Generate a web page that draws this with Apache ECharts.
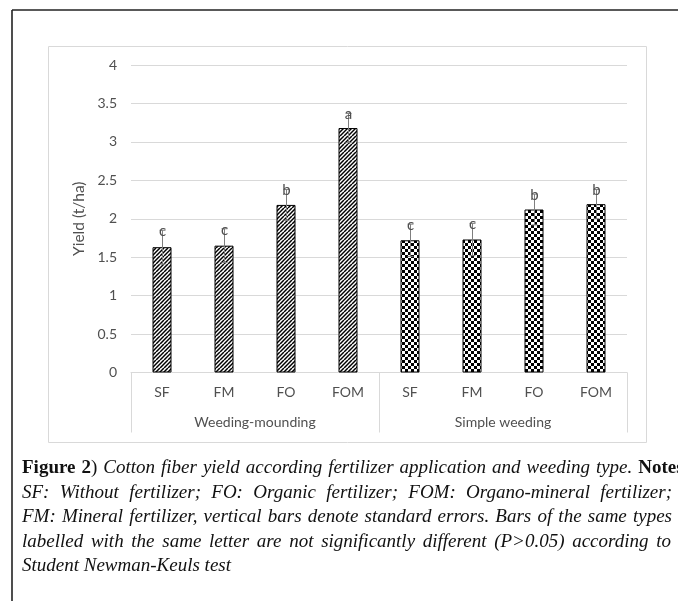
<!DOCTYPE html>
<html><head><meta charset="utf-8">
<script src="https://cdn.jsdelivr.net/npm/echarts@6/dist/echarts.min.js"></script>
<style>html,body{margin:0;padding:0;background:#fff}#c{width:678px;height:601px}</style>
</head><body><div id="c"></div><script>
// ---- data ----
const categories = ['SF','FM','FO','FOM','SF','FM','FO','FOM'];
const groups = ['Weeding-mounding','Simple weeding'];
const weedingMounding = [1.63,1.65,2.18,3.18,null,null,null,null];
const simpleWeeding = [null,null,null,null,1.72,1.73,2.12,2.19];
const stdErrors = [0.22,0.22,0.20,0.19,0.21,0.21,0.20,0.19];
const letters = ['c','c','b','a','c','c','b','b'];
const yMin = 0, yMax = 4, yStep = 0.5;
const yAxisName = 'Yield (t/ha)';
const captionLines = [
  'Figure 2) Cotton fiber yield according fertilizer application and weeding type. Notes:',
  'SF: Without fertilizer; FO: Organic fertilizer; FOM: Organo-mineral fertilizer;',
  'FM: Mineral fertilizer, vertical bars denote standard errors. Bars of the same types',
  'labelled with the same letter are not significantly different (P>0.05) according to',
  'Student Newman-Keuls test'
];

// ---- patterns ----
function hatch(){
  const c=document.createElement('canvas');c.width=8;c.height=8;
  const g=c.getContext('2d');g.fillStyle='#fff';g.fillRect(0,0,8,8);
  g.strokeStyle='#000';g.lineWidth=1.5;
  for(let k=-8;k<=16;k+=4){g.beginPath();g.moveTo(k,8);g.lineTo(k+8,0);g.stroke();}
  return c;
}
function checker(){
  const c=document.createElement('canvas');c.width=6;c.height=6;
  const g=c.getContext('2d');g.fillStyle='#fff';g.fillRect(0,0,6,6);
  g.fillStyle='#000';g.fillRect(0,0,3,3);g.fillRect(3,3,3,3);
  return c;
}

const values = categories.map((c,i)=> weedingMounding[i]!=null ? weedingMounding[i] : simpleWeeding[i]);
const chart = echarts.init(document.getElementById('c'), null, {renderer:'canvas'});
const gray = '#505050', gridC = '#d9d9d9';

// ---- caption (justified words) ----
const FS = 19, FF = '"Liberation Serif", serif';
const fonts = {i:'italic '+FS+'px '+FF, b:'bold '+FS+'px '+FF, r:FS+'px '+FF};
const mctx = document.createElement('canvas').getContext('2d');
function mw(t,f){mctx.font=fonts[f];return mctx.measureText(t).width;}
function segs(word){
  if(word==='Figure'||word==='Notes:') return [['b',word]];
  if(word==='2)') return [['b','2'],['r',')']];
  return [['i',word]];
}
const capX = 22, capY0 = 468, capDY = 24.5;
const justifyTo = [690, 672, 672, 671, null];
const captionGraphics = [];
captionLines.forEach((line,li)=>{
  const words = line.split(' ').map(w=>{const s=segs(w);return {s, w:s.reduce((a,p)=>a+mw(p[1],p[0]),0)};});
  const total = words.reduce((a,w)=>a+w.w,0);
  const gap = justifyTo[li] ? (justifyTo[li]-capX-total)/(words.length-1) : mw(' ','i');
  let x = capX;
  words.forEach(w=>{
    let sx = x;
    w.s.forEach(p=>{
      captionGraphics.push({type:'text', x:sx, y:capY0+li*capDY,
        style:{text:p[1], font:fonts[p[0]], fill:'#111', textAlign:'left', textVerticalAlign:'middle', align:'left', verticalAlign:'middle'}});
      sx += mw(p[1],p[0]);
    });
    x += w.w + gap;
  });
});

const gridPos = {left:131, right:51, top:65, bottom:228.5, outerBoundsMode:'none', containLabel:false};
chart.setOption({
  animation:false,
  textStyle:{fontFamily:'Lato'},
  grid:[Object.assign({},gridPos), Object.assign({},gridPos)],
  xAxis:[
    {type:'category', gridIndex:0, data:categories.map((c,i)=>String(i)),
     axisLine:{show:true, lineStyle:{color:gridC, width:1}}, axisTick:{show:false},
     axisLabel:{interval:0, margin:13, color:gray, fontSize:14, fontFamily:'Lato', formatter:(v,i)=>categories[i]}},
    {type:'category', gridIndex:1, data:groups, position:'bottom',
     axisLine:{show:false}, axisTick:{show:true, interval:0, length:60, lineStyle:{color:gridC, width:1}},
     axisLabel:{interval:0, margin:43, color:gray, fontSize:14, fontFamily:'Lato'}, splitLine:{show:false}}
  ],
  yAxis:[
    {type:'value', gridIndex:0, min:yMin, max:yMax, interval:yStep,
     name:yAxisName, nameLocation:'middle', nameRotate:90, nameGap:38,
     nameTextStyle:{color:gray, fontSize:15.5, fontFamily:'Lato'},
     axisLine:{show:false}, axisTick:{show:false},
     axisLabel:{color:gray, fontSize:14, margin:14, fontFamily:'Lato'},
     splitLine:{lineStyle:{color:gridC, width:1}}},
    {type:'value', gridIndex:1, min:yMin, max:yMax, show:false, splitLine:{show:false}}
  ],
  series:[
    {type:'bar', xAxisIndex:0, yAxisIndex:0, data:weedingMounding, barWidth:19, barGap:'-100%',
     itemStyle:{color:{image:hatch(), repeat:'repeat'}, borderColor:'#000', borderWidth:1}},
    {type:'bar', xAxisIndex:0, yAxisIndex:0, data:simpleWeeding, barWidth:19, barGap:'-100%',
     itemStyle:{color:{image:checker(), repeat:'repeat'}, borderColor:'#000', borderWidth:1}},
    {type:'custom', xAxisIndex:0, yAxisIndex:0, z:10,
     data:values.map((v,i)=>[i, v, stdErrors[i]]),
     renderItem:function(params, api){
       const i=api.value(0), v=api.value(1), e=api.value(2);
       const top=api.coord([i, v+e]), bot=api.coord([i, v-e]);
       const cx=Math.round(top[0])+0.5;
       const st={stroke:'#7f7f7f', lineWidth:1};
       return {type:'group', children:[
         {type:'line', shape:{x1:cx,y1:top[1],x2:cx,y2:bot[1]}, style:st},
         {type:'line', shape:{x1:cx-3,y1:top[1],x2:cx+3,y2:top[1]}, style:st},
         {type:'line', shape:{x1:cx-3,y1:bot[1],x2:cx+3,y2:bot[1]}, style:st},
         {type:'text', x:cx, y:top[1]+1, z2:20, style:{text:letters[params.dataIndex], fill:gray,
           font:'15px Lato', textAlign:'center', textVerticalAlign:'middle', align:'center', verticalAlign:'middle'}}
       ]};
     }}
  ],
  graphic:[
    {type:'line', shape:{x1:12,y1:10,x2:678,y2:10}, style:{stroke:'#222', lineWidth:1.6}},
    {type:'line', shape:{x1:12,y1:10,x2:12,y2:601}, style:{stroke:'#222', lineWidth:1.6}},
    {type:'rect', shape:{x:48.5,y:46.5,width:598,height:396}, style:{fill:'none', stroke:gridC, lineWidth:1}}
  ].concat(captionGraphics)
});
</script></body></html>
